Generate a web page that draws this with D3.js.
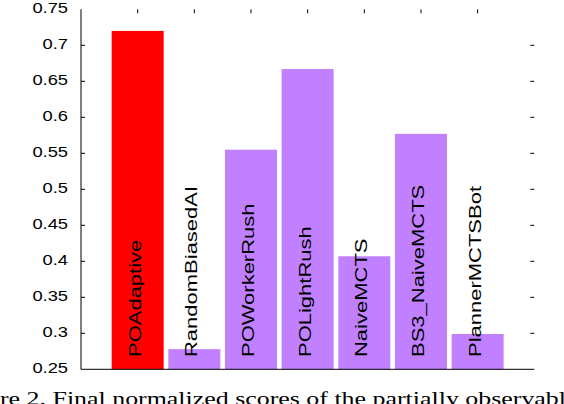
<!DOCTYPE html>
<html><head><meta charset="utf-8">
<script src="https://cdn.jsdelivr.net/npm/d3@7"></script>
<style>body{margin:0;background:#fff}svg{display:block}</style>
</head><body>
<svg id="c" width="564" height="404"></svg>
<script>
const categories = ["POAdaptive","RandomBiasedAI","POWorkerRush","POLightRush","NaiveMCTS","BS3_NaiveMCTS","PlannerMCTSBot"];
const values = [0.720, 0.278, 0.555, 0.667, 0.407, 0.577, 0.299];
const barColors = ["#ff0000","#c080ff","#c080ff","#c080ff","#c080ff","#c080ff","#c080ff"];
const yTicks = [0.25,0.3,0.35,0.4,0.45,0.5,0.55,0.6,0.65,0.7,0.75];
const yTickLabels = ["0.25","0.3","0.35","0.4","0.45","0.5","0.55","0.6","0.65","0.7","0.75"];
const caption = "re 2.  Final normalized scores of the partially observabl";

const svg = d3.select("#c");
const L = 81, R = 534.3, T = 9.3, B = 369.3;
const x = d3.scaleLinear().domain([0, categories.length + 1]).range([L, R]);
const y = d3.scaleLinear().domain([0.25, 0.75]).range([B, T]);
const bw = 52;

// bars
svg.append("g").selectAll("rect").data(values).join("rect")
  .attr("x", (d,i) => x(i+1) - bw/2)
  .attr("width", bw)
  .attr("y", d => y(d))
  .attr("height", d => B - y(d))
  .attr("fill", (d,i) => barColors[i]);

// axes lines
svg.append("line").attr("x1", L).attr("x2", L).attr("y1", T).attr("y2", B)
  .attr("stroke", "#000").attr("stroke-width", 1);
svg.append("line").attr("x1", L).attr("x2", R).attr("y1", B).attr("y2", B)
  .attr("stroke", "#000").attr("stroke-width", 1);

// left ticks (inward) and right mirror ticks
const tg = svg.append("g").attr("stroke", "#000").attr("stroke-width", 1);
yTicks.forEach(t => {
  if (t > 0.25 && t < 0.75) {
    tg.append("line").attr("x1", L).attr("x2", L + 4).attr("y1", y(t)).attr("y2", y(t));
    tg.append("line").attr("x1", R - 4).attr("x2", R).attr("y1", y(t)).attr("y2", y(t));
  }
});
// top mirror ticks
categories.forEach((c,i) => {
  tg.append("line").attr("x1", x(i+1)).attr("x2", x(i+1)).attr("y1", T).attr("y2", T + 4);
});

// y tick labels
svg.append("g").selectAll("text").data(yTicks).join("text")
  .attr("transform", d => `translate(68,${y(d) + 3.2}) scale(1.22,1)`)
  .attr("text-anchor", "end")
  .attr("font-family", "Liberation Sans, Arial, sans-serif")
  .attr("font-size", 15)
  .attr("fill", "#000")
  .text((d,i) => yTickLabels[i]);

// category labels rotated inside bars
svg.append("g").selectAll("text").data(categories).join("text")
  .attr("transform", (d,i) => `translate(${x(i+1) + 3},357) rotate(-90) scale(1.375,1)`)
  .attr("text-anchor", "start")
  .attr("font-family", "Liberation Sans, Arial, sans-serif")
  .attr("font-size", 16)
  .attr("fill", "#000")
  .text(d => d);

// caption (cut off at bottom, as in the reference)
svg.append("text")
  .attr("x", 0).attr("y", 404.5)
  .attr("font-family", "Liberation Serif, Times New Roman, serif")
  .attr("font-size", 19)
  .attr("textLength", 566)
  .attr("lengthAdjust", "spacingAndGlyphs")
  .attr("fill", "#000")
  .text(caption);
</script>
</body></html>
